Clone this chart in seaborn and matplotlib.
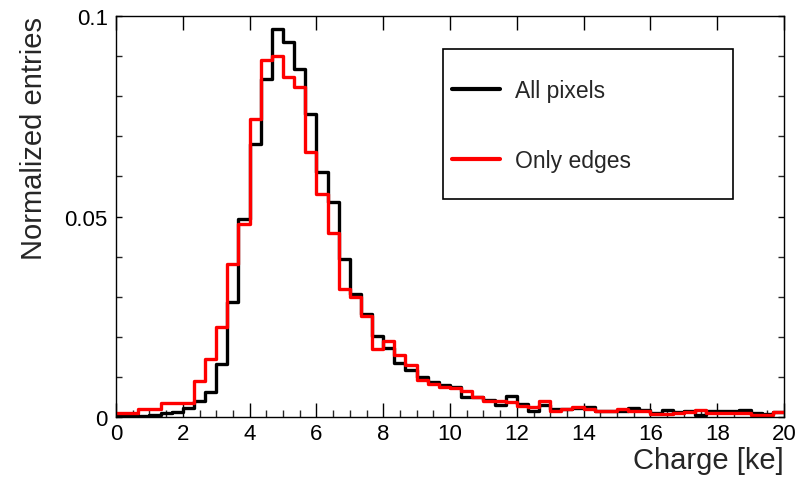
import numpy as np
import pandas as pd
import matplotlib
matplotlib.use("Agg")
import matplotlib.pyplot as plt
import seaborn as sns
from matplotlib.patches import Rectangle
from matplotlib.ticker import MultipleLocator, FixedLocator, FixedFormatter

# ---- data (60 bins, 0..20 ke, width 1/3 ke) ----
x_min, x_max, n_bins = 0.0, 20.0, 60
all_pixels = [
    0.0005, 0.0005, 0.0003, 0.0005, 0.0010, 0.0013, 0.0022, 0.0040, 0.0063, 0.0132,
    0.0287, 0.0494, 0.0680, 0.0843, 0.0967, 0.0935, 0.0868, 0.0756, 0.0610, 0.0536,
    0.0394, 0.0307, 0.0257, 0.0202, 0.0172, 0.0134, 0.0118, 0.0099, 0.0088, 0.0080,
    0.0074, 0.0050, 0.0050, 0.0042, 0.0030, 0.0052, 0.0032, 0.0016, 0.0030, 0.0020,
    0.0020, 0.0022, 0.0024, 0.0015, 0.0015, 0.0015, 0.0022, 0.0018, 0.0010, 0.0017,
    0.0012, 0.0015, 0.0005, 0.0015, 0.0015, 0.0014, 0.0017, 0.0010, 0.0008, 0.0012,
]
only_edges = [
    0.0010, 0.0010, 0.0020, 0.0020, 0.0035, 0.0035, 0.0035, 0.0091, 0.0145, 0.0225,
    0.0382, 0.0481, 0.0743, 0.0891, 0.0900, 0.0848, 0.0823, 0.0660, 0.0556, 0.0460,
    0.0320, 0.0300, 0.0252, 0.0170, 0.0190, 0.0155, 0.0130, 0.0093, 0.0083, 0.0075,
    0.0072, 0.0066, 0.0050, 0.0039, 0.0041, 0.0038, 0.0028, 0.0025, 0.0041, 0.0016,
    0.0021, 0.0025, 0.0020, 0.0015, 0.0015, 0.0020, 0.0015, 0.0015, 0.0008, 0.0008,
    0.0010, 0.0012, 0.0017, 0.0010, 0.0010, 0.0010, 0.0010, 0.0005, 0.0005, 0.0012,
]
series_labels = ["All pixels", "Only edges"]
series_colors = ["#000000", "#ff0000"]
x_ticks = [0, 2, 4, 6, 8, 10, 12, 14, 16, 18, 20]
y_ticks = [0, 0.05, 0.1]
y_tick_labels = ["0", "0.05", "0.1"]
x_label = "Charge [ke]"
y_label = "Normalized entries"

bin_w = (x_max - x_min) / n_bins
centers = x_min + bin_w * (np.arange(n_bins) + 0.5)
df = pd.DataFrame({
    "charge": np.concatenate([centers, centers]),
    "weight": np.concatenate([all_pixels, only_edges]),
    "series": [series_labels[0]] * n_bins + [series_labels[1]] * n_bins,
})

sns.set_style("ticks")
plt.rcParams["font.family"] = ["Liberation Sans", "DejaVu Sans"]

fig = plt.figure(figsize=(8.02, 4.85), dpi=100)
ax = fig.add_axes([116 / 802, 1 - 418 / 485, (784 - 116) / 802, (418 - 17) / 485])

for lab, col in zip(series_labels, series_colors):
    sub = df[df["series"] == lab]
    sns.histplot(data=sub, x="charge", weights="weight", binwidth=bin_w,
                 binrange=(x_min, x_max),
                 element="step", fill=False, color=col, linewidth=2.4,
                 ax=ax, label=lab)

ax.set_xlim(0, 20)
ax.set_ylim(0, 0.1)
ax.xaxis.set_major_locator(FixedLocator(x_ticks))
ax.xaxis.set_minor_locator(MultipleLocator(0.5))
ax.yaxis.set_major_locator(FixedLocator(y_ticks))
ax.yaxis.set_major_formatter(FixedFormatter(y_tick_labels))
ax.yaxis.set_minor_locator(MultipleLocator(0.01))

for s in ax.spines.values():
    s.set_visible(True)
    s.set_color("black")
    s.set_linewidth(1.0)

ax.tick_params(axis="x", which="major", direction="in", length=10, width=1.0,
               top=True, bottom=True, labelsize=16, pad=4, colors="black")
ax.tick_params(axis="x", which="minor", direction="in", length=5, width=1.0,
               top=False, bottom=True)
ax.tick_params(axis="y", which="major", direction="in", length=4, width=1.0,
               left=True, right=True, labelsize=16, pad=6, colors="black")
ax.tick_params(axis="y", which="minor", direction="in", length=4, width=1.0,
               left=True, right=True)

ax.set_xlabel(x_label, fontsize=21, loc="right", labelpad=2)
ax.set_ylabel(y_label, fontsize=21, loc="top", labelpad=12)

# legend frame box (ROOT-style TLegend)
ax.add_patch(Rectangle((0.4895, 0.5436), 0.4342, 0.3741, transform=ax.transAxes,
                       fill=True, facecolor="white", edgecolor="black",
                       linewidth=1.2, zorder=4))
leg = ax.legend(loc="upper left", bbox_to_anchor=(0.503, 0.842),
                fontsize=16.5, frameon=False,
                borderpad=0.0, labelspacing=2.03, handlelength=2.1,
                handletextpad=0.65, borderaxespad=0.0)
leg.set_zorder(5)
for ln in leg.get_lines():
    ln.set_linewidth(3)

ax.grid(False)
fig.savefig("out.png", dpi=100, facecolor="white")
